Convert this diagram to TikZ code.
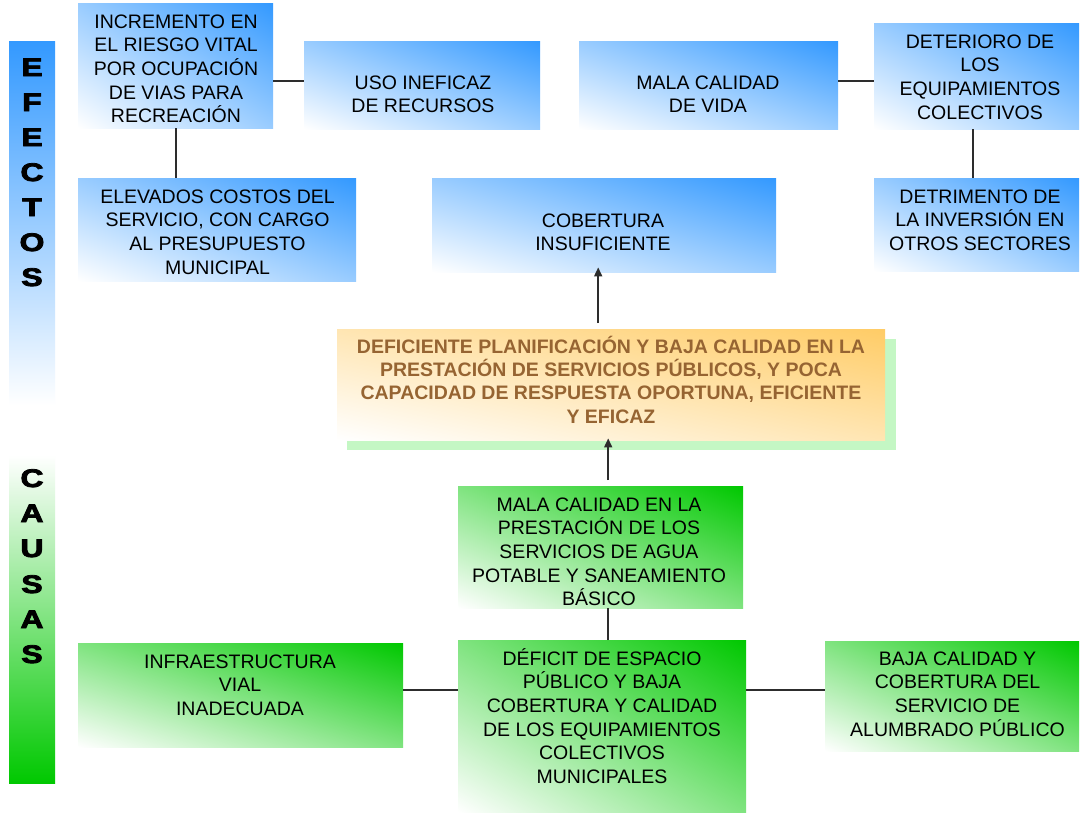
\documentclass[tikz,border=0pt]{standalone}
\usepackage{fontspec}
\setmainfont{Liberation Sans}
\usepackage{graphicx}
\usetikzlibrary{arrows.meta}
\definecolor{blueA}{RGB}{51,153,255}
\definecolor{greenA}{RGB}{0,200,0}
\definecolor{orangeA}{RGB}{255,204,102}
\definecolor{shadowG}{RGB}{196,247,196}
\definecolor{lineC}{RGB}{45,45,45}
\definecolor{brownT}{RGB}{150,100,50}
\newcommand{\topstrut}{\rule{0pt}{19pt}}
\newcommand{\bigletter}[1]{\scalebox{1.25}[1]{#1}}
% diagonal gradients: white at bottom-left, full colour at top-right
\pgfdeclarefunctionalshading{diagblue}{\pgfpoint{-50bp}{-50bp}}{\pgfpoint{50bp}{50bp}}{}{add 50 add 100 div dup 0.8 mul 1 exch sub exch dup 0.4 mul 1 exch sub exch pop 1}
\pgfdeclarefunctionalshading{diaggreen}{\pgfpoint{-50bp}{-50bp}}{\pgfpoint{50bp}{50bp}}{}{add 50 add 100 div dup 1 exch sub exch dup 0.2157 mul 1 exch sub exch 1 exch sub}
\pgfdeclarefunctionalshading{diagorange}{\pgfpoint{-50bp}{-50bp}}{\pgfpoint{50bp}{50bp}}{}{add 50 add 100 div dup 0.2 mul 1 exch sub exch 0.6 mul 1 exch sub 1 3 1 roll}
\begin{document}
\begin{tikzpicture}[x=1pt,y=-1pt,
  boxbase/.style={rectangle, inner sep=0pt, anchor=north west},
  bluebox/.style={boxbase, shade, shading=diagblue},
  greenbox/.style={boxbase, shade, shading=diaggreen},
  orangebox/.style={boxbase, shade, shading=diagorange},
  txt/.style={inner sep=0pt, anchor=north, align=center, text=black,
    font=\fontsize{19.5pt}{23.6pt}\selectfont},
  centxt/.style={txt, text=brownT, font=\fontsize{19.5pt}{23.3pt}\selectfont\bfseries},
  bigL/.style={inner sep=0pt, anchor=base, text=black,
    font=\fontsize{25.5pt}{25.5pt}\selectfont\bfseries\addfontfeature{FakeBold=3}},
  conn/.style={draw=lineC, line width=1.6pt},
  arr/.style={conn, -{Triangle[length=9pt,width=8pt]}}
]
\useasboundingbox (0,0) rectangle (1080,814);
\fill[white] (0,0) rectangle (1080,814);

% side bars
\node[boxbase, minimum width=46pt, minimum height=364pt, top color=blueA, bottom color=white] (efb) at (9,41) {};
\node[boxbase, minimum width=46pt, minimum height=328pt, top color=white, bottom color=greenA] (cab) at (9,455) {};
\foreach \l/\y [count=\i] in {E/76,F/111,E/146,C/181,T/216,O/251,S/286}
  \node[bigL] (e\i) at (32,\y) {\bigletter{\l}};
\foreach \l/\y [count=\i] in {C/487,A/522,U/557,S/593,A/628,S/663}
  \node[bigL] (c\i) at (32,\y) {\bigletter{\l}};

% effect boxes
\node[bluebox, minimum width=195pt, minimum height=125pt] (inc) at (78,3) {};
\node[bluebox, minimum width=236pt, minimum height=88pt] (uso) at (304,41) {};
\node[bluebox, minimum width=278pt, minimum height=103pt] (elev) at (78,178) {};
\node[bluebox, minimum width=344pt, minimum height=94pt] (cob) at (432,178) {};
\node[bluebox, minimum width=259pt, minimum height=88pt] (mala) at (579,41) {};
\node[bluebox, minimum width=205pt, minimum height=106pt] (deter) at (874,23) {};
\node[bluebox, minimum width=205pt, minimum height=93pt] (detr) at (874,178) {};

% central problem
\fill[shadowG] (347,339) rectangle (896,450);
\node[orangebox, minimum width=548pt, minimum height=111pt] (cen) at (337,329) {};

% cause boxes
\node[greenbox, minimum width=285pt, minimum height=122pt] (agua) at (458,486) {};
\node[greenbox, minimum width=288pt, minimum height=172pt] (def) at (458,640) {};
\node[greenbox, minimum width=325pt, minimum height=104pt] (infra) at (78,643) {};
\node[greenbox, minimum width=254pt, minimum height=110pt] (baja) at (825,641) {};

% texts
\node[txt] (tinc) at (176,9) {\topstrut INCREMENTO EN\\EL RIESGO VITAL\\POR OCUPACIÓN\\DE VIAS PARA\\RECREACIÓN};
\node[txt] (tuso) at (423,70) {\topstrut USO INEFICAZ\\DE RECURSOS};
\node[txt] (telev) at (217.5,184) {\topstrut ELEVADOS COSTOS DEL\\SERVICIO, CON CARGO\\AL PRESUPUESTO\\MUNICIPAL};
\node[txt] (tmala) at (708,70) {\topstrut MALA CALIDAD\\DE VIDA};
\node[txt] (tdeter) at (980,29) {\topstrut DETERIORO DE\\LOS\\EQUIPAMIENTOS\\COLECTIVOS};
\node[txt] (tdetr) at (980,184) {\topstrut DETRIMENTO DE\\LA INVERSIÓN EN\\OTROS SECTORES};
\node[txt] (tcob) at (603,208) {\topstrut COBERTURA\\INSUFICIENTE};
\node[centxt] (tcen) at (611,334) {\topstrut DEFICIENTE PLANIFICACIÓN Y BAJA CALIDAD EN LA\\PRESTACIÓN DE SERVICIOS PÚBLICOS, Y POCA\\CAPACIDAD DE RESPUESTA OPORTUNA, EFICIENTE\\Y EFICAZ};
\node[txt] (tagua) at (599,492) {\topstrut MALA CALIDAD EN LA\\PRESTACIÓN DE LOS\\SERVICIOS DE AGUA\\POTABLE Y SANEAMIENTO\\BÁSICO};
\node[txt] (tdef) at (602,646) {\topstrut DÉFICIT DE ESPACIO\\PÚBLICO Y BAJA\\COBERTURA Y CALIDAD\\DE LOS EQUIPAMIENTOS\\COLECTIVOS\\MUNICIPALES};
\node[txt] (tinfra) at (240,649) {\topstrut INFRAESTRUCTURA\\VIAL\\INADECUADA};
\node[txt] (tbaja) at (957.5,646) {\topstrut BAJA CALIDAD Y\\COBERTURA DEL\\SERVICIO DE\\ALUMBRADO PÚBLICO};

% connectors
\coordinate (k1) at ([yshift=4pt]uso.west);
\draw[conn] (k1 -| inc.east) -- (k1);
\draw[conn] (inc.south) -- (inc.south |- elev.north);
\coordinate (k2) at ([yshift=4pt]mala.east);
\draw[conn] (k2) -- (k2 -| deter.west);
\coordinate (k3) at ([xshift=-3.5pt]deter.south);
\draw[conn] (k3) -- (k3 |- detr.north);
\coordinate (k4) at ([xshift=-6pt]cob.south);
\draw[arr, shorten <=6pt, shorten >=-5pt] (k4 |- cen.north) -- (k4);
\coordinate (k5) at ([xshift=7.5pt]agua.north);
\draw[arr, shorten <=6pt, shorten >=-2pt] (k5) -- (k5 |- cen.south);
\coordinate (k6) at ([xshift=7.5pt]agua.south);
\draw[conn] (k6) -- (k6 |- def.north);
\coordinate (k7) at ([yshift=5pt]infra.east);
\draw[conn] (k7) -- (k7 -| def.west);
\coordinate (k8) at ([yshift=6pt]baja.west);
\draw[conn] (k8 -| def.east) -- (k8);
\end{tikzpicture}
\end{document}
